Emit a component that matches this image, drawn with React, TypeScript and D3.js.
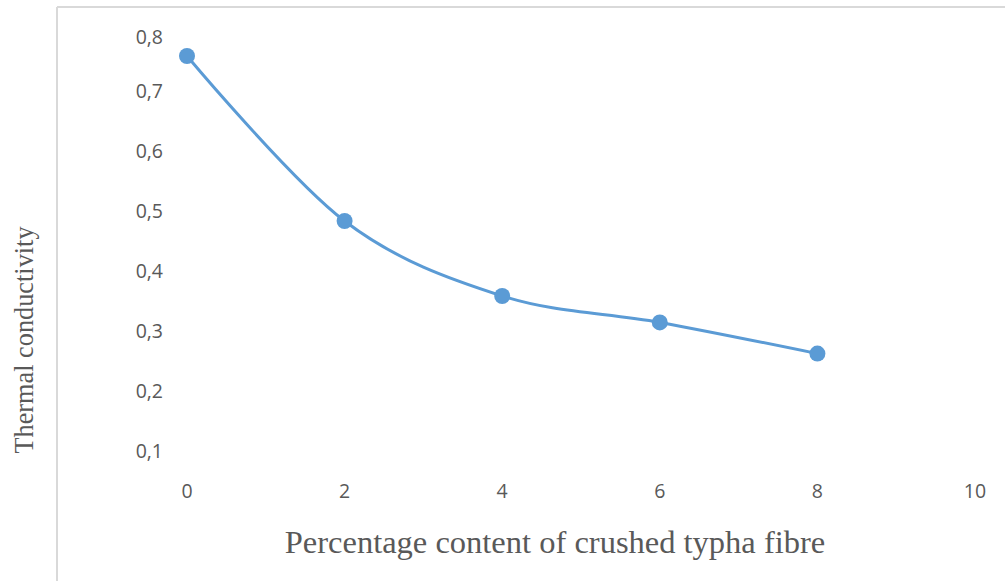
import React from "react";
import * as d3 from "d3";

const fibreContent = [0, 2, 4, 6, 8];
const conductivity = [0.76, 0.485, 0.36, 0.316, 0.264];
const xTicks = [0, 2, 4, 6, 8, 10];
const yTicks = [0.1, 0.2, 0.3, 0.4, 0.5, 0.6, 0.7, 0.8];
const xTitle = "Percentage content of crushed typha fibre";
const yTitle = "Thermal conductivity";

const W = 1005;
const H = 581;

export default function App() {
  const x = d3.scaleLinear().domain([0, 10]).range([187, 975]);
  const y = d3.scaleLinear().domain([0.1, 0.7]).range([452, 92]);
  const pts: [number, number][] = fibreContent.map((d, i) => [x(d), y(conductivity[i])]);
  const line = d3.line().curve(d3.curveCardinal.tension(0));
  const fmt = (v: number) => v.toFixed(1).replace(".", ",");
  const color = "#5b9bd5";
  return (
    <svg
      width={W}
      height={H}
      style={{ position: "fixed", left: 0, top: 0, background: "#fff" }}
    >
      <rect x={0} y={0} width={W} height={H} fill="#fff" />
      <line x1={57} y1={7} x2={W} y2={7} stroke="#d9d9d9" strokeWidth={2} />
      <line x1={57} y1={7} x2={57} y2={H} stroke="#d9d9d9" strokeWidth={2} />
      {yTicks.map((t, i) => (
        <text
          key={t}
          x={163}
          y={(i === yTicks.length - 1 ? y(t) + 6 : y(t)) + 1}
          textAnchor="end"
          dominantBaseline="middle"
          fontFamily="'Open Sans', sans-serif"
          fontSize={19.5}
          fill="#595959"
        >
          {fmt(t)}
        </text>
      ))}
      {xTicks.map((t) => (
        <text
          key={t}
          x={x(t)}
          y={493}
          textAnchor="middle"
          dominantBaseline="middle"
          fontFamily="'Open Sans', sans-serif"
          fontSize={19.5}
          fill="#595959"
        >
          {t}
        </text>
      ))}
      <path d={line(pts) || ""} fill="none" stroke={color} strokeWidth={3} strokeLinecap="round" />
      {pts.map((p, i) => (
        <circle key={i} cx={p[0]} cy={p[1]} r={8} fill={color} />
      ))}
      <text
        x={555}
        y={553}
        textAnchor="middle"
        fontFamily="'Liberation Serif', 'Times New Roman', serif"
        fontSize={32.5}
        fill="#595959"
      >
        {xTitle}
      </text>
      <text
        transform={`translate(33,340) rotate(-90)`}
        textAnchor="middle"
        fontFamily="'Liberation Serif', 'Times New Roman', serif"
        fontSize={26.3}
        fill="#595959"
      >
        {yTitle}
      </text>
    </svg>
  );
}
